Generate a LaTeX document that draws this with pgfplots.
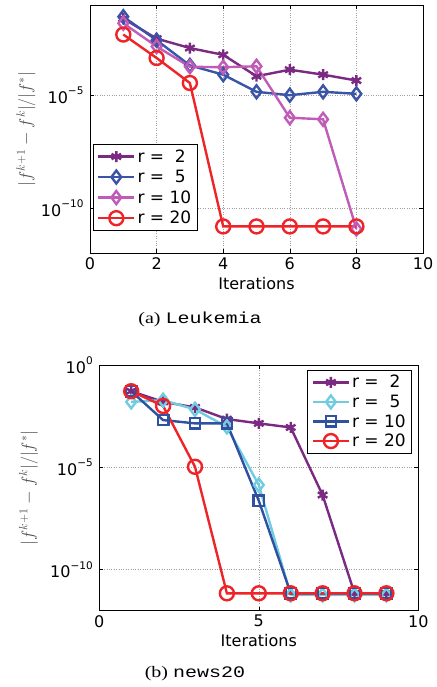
\documentclass[border=0pt]{standalone}
\usepackage{fontspec}
\setmainfont{DejaVu Sans}
\newfontfamily\capserif{Liberation Serif}
\newfontfamily\capmono{Liberation Mono}
\usepackage{graphicx}
\usepackage{pgfplots}
\pgfplotsset{compat=1.18}

\definecolor{cpurple}{HTML}{7B2A82}
\definecolor{cblue}{HTML}{3A55A8}
\definecolor{cpink}{HTML}{C05CB8}
\definecolor{cred}{HTML}{EE2428}
\definecolor{ccyan}{HTML}{70CCE0}
\definecolor{cdblue}{HTML}{3050A0}

\newcommand{\tenexp}[1]{10\raisebox{0.55em}{\fontsize{10.5}{11}\selectfont #1}}

\begin{document}
\begin{tikzpicture}
\path[use as bounding box] (0pt,0pt) rectangle (436pt,-687pt);

% (a) Leukemia
\begin{axis}[
  scale only axis,
  at={(90pt,-253pt)}, anchor=south west,
  width=333pt, height=248pt,
  ymode=log,
  xmin=0, xmax=10,
  ymin=1e-12, ymax=1e-1,
  xtick={0,2,4,6,8,10},
  ytick={1e-10,1e-5},
  yticklabels={\tenexp{−10},\tenexp{−5}},
  /pgf/number format/assume math mode=true,
  tick align=inside,
  major tick length=4pt,
  tick style={black, line width=0.6pt},
  axis line style={line width=0.8pt},
  grid=major,
  major grid style={dotted, gray!75, line width=0.6pt},
  ticklabel style={font=\fontsize{16}{18}\selectfont},
  xticklabel style={yshift=-1pt},
  yticklabel style={xshift=-3pt},
  xlabel={Iterations},
  xlabel style={font=\fontsize{16}{18}\selectfont, at={(axis description cs:0.5,-0.122)}, anchor=center},
  ylabel={$|f^{k+1}-f^k|/|f^*|$},
  ylabel style={font=\fontsize{18.5}{20}\selectfont, color=black!70, at={(axis description cs:-0.192,0.5)}, anchor=center},
  legend cell align=left,
  legend style={font=\fontsize{17}{19}\selectfont, draw=black, line width=0.9pt,
    inner xsep=4pt, inner ysep=3pt, row sep=2.5pt,
    /tikz/every even column/.append style={column sep=3pt},
    at={(axis description cs:0.008,0.09)}, anchor=south west},
  legend image code/.code={\draw[mark repeat=2,mark phase=2] plot coordinates {(0pt,0pt) (18pt,0pt) (36pt,0pt)};},
  every axis plot/.append style={line width=2.4pt},
]
\addplot[cpurple, mark=asterisk, mark size=5.5pt] coordinates {(1,0.0251) (2,0.00324) (3,0.00123) (4,6.17e-4) (5,6.92e-5) (6,1.35e-4) (7,8.13e-5) (8,4.47e-5)};
\addplot[cblue, mark=diamond, mark size=6.5pt] coordinates {(1,0.0302) (2,0.00275) (3,2.09e-4) (4,8.13e-5) (5,1.41e-5) (6,1.0e-5) (7,1.41e-5) (8,1.15e-5)};
\addplot[cpink, mark=diamond, mark size=6.5pt] coordinates {(1,0.0155) (2,0.00145) (3,1.82e-4) (4,1.74e-4) (5,1.91e-4) (6,1.0e-6) (7,8.51e-7) (8,1.17e-11)};
\addplot[cred, mark=o, mark size=7pt] coordinates {(1,0.0049) (2,4.47e-4) (3,3.47e-5) (4,1.51e-11) (5,1.51e-11) (6,1.51e-11) (7,1.51e-11) (8,1.51e-11)};
\legend{r = \ 2, r = \ 5, r = 10, r = 20}
\end{axis}

% (b) news20
\begin{axis}[
  scale only axis,
  at={(99.3pt,-610.7pt)}, anchor=south west,
  width=319pt, height=245.7pt,
  ymode=log,
  xmin=0, xmax=10,
  ymin=1e-12, ymax=1,
  xtick={0,5,10},
  ytick={1e-10,1e-5,1},
  yticklabels={\tenexp{−10},\tenexp{−5},\tenexp{0}},
  /pgf/number format/assume math mode=true,
  tick align=inside,
  major tick length=4pt,
  tick style={black, line width=0.6pt},
  axis line style={line width=0.8pt},
  grid=major,
  major grid style={dotted, gray!75, line width=0.6pt},
  ticklabel style={font=\fontsize{16}{18}\selectfont},
  xticklabel style={yshift=-1pt},
  yticklabel style={xshift=-3pt},
  xlabel={Iterations},
  xlabel style={font=\fontsize{16}{18}\selectfont, at={(axis description cs:0.5,-0.123)}, anchor=center},
  ylabel={$|f^{k+1}-f^k|/|f^*|$},
  ylabel style={font=\fontsize{18.5}{20}\selectfont, color=black!70, at={(axis description cs:-0.222,0.5)}, anchor=center},
  legend cell align=left,
  legend style={font=\fontsize{17}{19}\selectfont, draw=black, line width=0.9pt,
    inner xsep=4pt, inner ysep=3pt, row sep=1.5pt,
    /tikz/every even column/.append style={column sep=3pt},
    at={(axis description cs:0.981,0.98)}, anchor=north east},
  legend image code/.code={\draw[mark repeat=2,mark phase=2] plot coordinates {(0pt,0pt) (18pt,0pt) (36pt,0pt)};},
  every axis plot/.append style={line width=2.4pt},
]
\addplot[cpurple, mark=asterisk, mark size=5.5pt] coordinates {(1,0.0525) (2,0.0158) (3,0.00851) (4,0.00229) (5,0.00141) (6,8.91e-4) (7,4.47e-7) (8,7.08e-12) (9,7.08e-12)};
\addplot[ccyan, mark=diamond, mark size=6.5pt] coordinates {(1,0.0158) (2,0.0191) (3,0.00676) (4,9.55e-4) (5,1.38e-6) (6,5.89e-12) (7,5.89e-12) (8,5.89e-12) (9,5.89e-12)};
\addplot[cdblue, mark=square, mark size=5.2pt] coordinates {(1,0.0525) (2,0.00204) (3,0.00141) (4,0.00141) (5,2.34e-7) (6,7.08e-12) (7,7.08e-12) (8,7.08e-12) (9,7.08e-12)};
\addplot[cred, mark=o, mark size=7pt] coordinates {(1,0.0525) (2,0.01) (3,1.07e-5) (4,7.08e-12) (5,7.08e-12) (6,7.08e-12) (7,7.08e-12) (8,7.08e-12) (9,7.08e-12)};
\legend{r = \ 2, r = \ 5, r = 10, r = 20}
\end{axis}

\node at (200pt,-319pt) {\scalebox{1.25}[1]{\fontsize{16}{18}\selectfont\capserif (a) \capmono Leukemia}};
\node at (195pt,-674pt) {\scalebox{1.25}[1]{\fontsize{16}{18}\selectfont\capserif (b) \capmono news20}};
\end{tikzpicture}
\end{document}
